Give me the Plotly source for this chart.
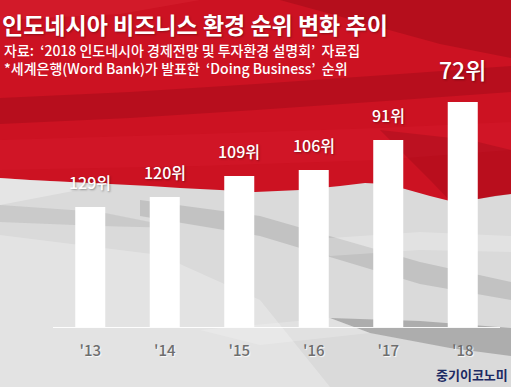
import plotly.graph_objects as go

W, H = 511, 387

# ---- data ----
years = ["'13", "'14", "'15", "'16", "'17", "'18"]
ranks = [129, 120, 109, 106, 91, 72]
bar_heights = [120, 130, 151, 157, 187, 225]   # bar lengths
rank_labels = [f"{r}위" for r in ranks]

title = "인도네시아 비즈니스 환경 순위 변화 추이"
source1 = "자료:  ‘2018 인도네시아 경제전망 및 투자환경 설명회’  자료집"
source2 = "*세계은행(Word Bank)가 발표한  ‘Doing Business’  순위"
logo = "중기이코노미"

FONT = "Noto Sans CJK KR"

def P(pts, close=True):
    s = "M " + " L ".join(f"{x / W:.4f},{1 - y / H:.4f}" for x, y in pts)
    return s + (" Z" if close else "")

shapes = []
def add(pts, color):
    shapes.append(dict(type="path", xref="paper", yref="paper", path=P(pts),
                       fillcolor=color, line=dict(width=0), layer="below"))

# red half of the flag
boundary = [(511, 194), (495, 196), (478, 199), (450, 201), (430, 196), (405, 189),
            (385, 184), (365, 183), (340, 186), (300, 190), (255, 192), (220, 190),
            (180, 188), (150, 186), (110, 184), (70, 182), (30, 180), (0, 178)]
add([(0, 0), (511, 0)] + boundary, "rgb(204,18,34)")
# fabric folds (red)
add([(0, 98), (130, 92), (256, 84), (400, 74), (511, 66), (511, 92), (400, 100),
     (256, 110), (130, 118), (0, 124)], "rgba(110,0,12,0.22)")
add([(280, 0), (511, 0), (511, 58), (440, 44), (360, 22)], "rgba(100,0,10,0.22)")
add([(0, 0), (200, 0), (120, 14), (0, 20)], "rgba(255,90,100,0.12)")
add([(0, 140), (200, 134), (380, 128), (511, 122), (511, 150), (380, 160),
     (200, 166), (0, 170)], "rgba(255,70,85,0.08)")
add([(380, 130), (470, 140), (511, 150), (511, 194), (478, 199), (450, 201),
     (430, 180)], "rgba(100,0,10,0.18)")
# grey fabric folds
add([(0, 178), (30, 180), (70, 182), (110, 184), (0, 205)], "rgba(255,255,255,0.3)")
add([(0, 235), (160, 255), (260, 300), (330, 387), (0, 387)], "rgba(255,255,255,0.25)")
add([(140, 200), (260, 216), (420, 262), (511, 282), (511, 300), (420, 284),
     (260, 236), (140, 216)], "rgba(110,110,110,0.22)")
add([(0, 205), (100, 212), (180, 228), (100, 226), (0, 222)], "rgba(120,120,120,0.16)")
add([(300, 240), (420, 232), (511, 236), (511, 252), (420, 250), (330, 256)],
    "rgba(255,255,255,0.22)")
add([(330, 318), (420, 321), (511, 328), (511, 356), (450, 348), (370, 333)],
    "rgba(90,90,90,0.35)")
add([(200, 330), (330, 318), (370, 333), (260, 345)], "rgba(255,255,255,0.2)")

fig = go.Figure()
fig.add_trace(go.Bar(
    x=years, y=bar_heights,
    marker=dict(color="white", line=dict(width=0)),
    hoverinfo="skip",
))

annotations = []
for i, (yr, h, lab) in enumerate(zip(years, bar_heights, rank_labels)):
    big = i == len(years) - 1
    annotations.append(dict(
        x=yr, y=h, xref="x", yref="y", text=lab, showarrow=False,
        yanchor="bottom", yshift=11 if not big else 14,
        font=dict(family=FONT, size=23 if big else 16, color="white", weight=500,
                  shadow="1px 1px 2px rgba(0,0,0,0.35)"),
    ))

def txt(text, x, y, size, color, bold=False, anchor="left", shadow="none"):
    annotations.append(dict(
        x=x / W, y=1 - y / H, xref="paper", yref="paper", text=text,
        showarrow=False, xanchor=anchor, yanchor="middle", align="left",
        font=dict(family=FONT, size=size, color=color,
                  weight="bold" if bold else 500, shadow=shadow),
    ))

txt(title, 0, 24, 23, "white", bold=True, shadow="1px 1px 2px rgba(0,0,0,0.3)")
txt(source1 + "<br>" + source2, 2, 59, 14, "white")
txt(logo, 510, 374, 13, "#1c2a63", bold=True, anchor="right")

fig.update_layout(
    width=W, height=H,
    margin=dict(l=0, r=0, t=0, b=0),
    paper_bgcolor="rgb(218,218,218)",
    plot_bgcolor="rgba(0,0,0,0)",
    shapes=shapes,
    annotations=annotations,
    showlegend=False,
    bargap=0.597,
    xaxis=dict(
        domain=[53 / W, 500 / W],
        showgrid=False, zeroline=False,
        showline=True, linecolor="rgba(255,255,255,0.9)", linewidth=1,
        ticks="", ticklabelstandoff=10,
        tickfont=dict(family=FONT, size=15, color="#6e6e6e", weight=500,
                      shadow="1px 1px 1px rgba(255,255,255,0.9)"),
        fixedrange=True,
    ),
    yaxis=dict(
        domain=[60 / H, 1],
        range=[0, 327],
        visible=False, fixedrange=True,
    ),
)

fig.write_html("out.html")
